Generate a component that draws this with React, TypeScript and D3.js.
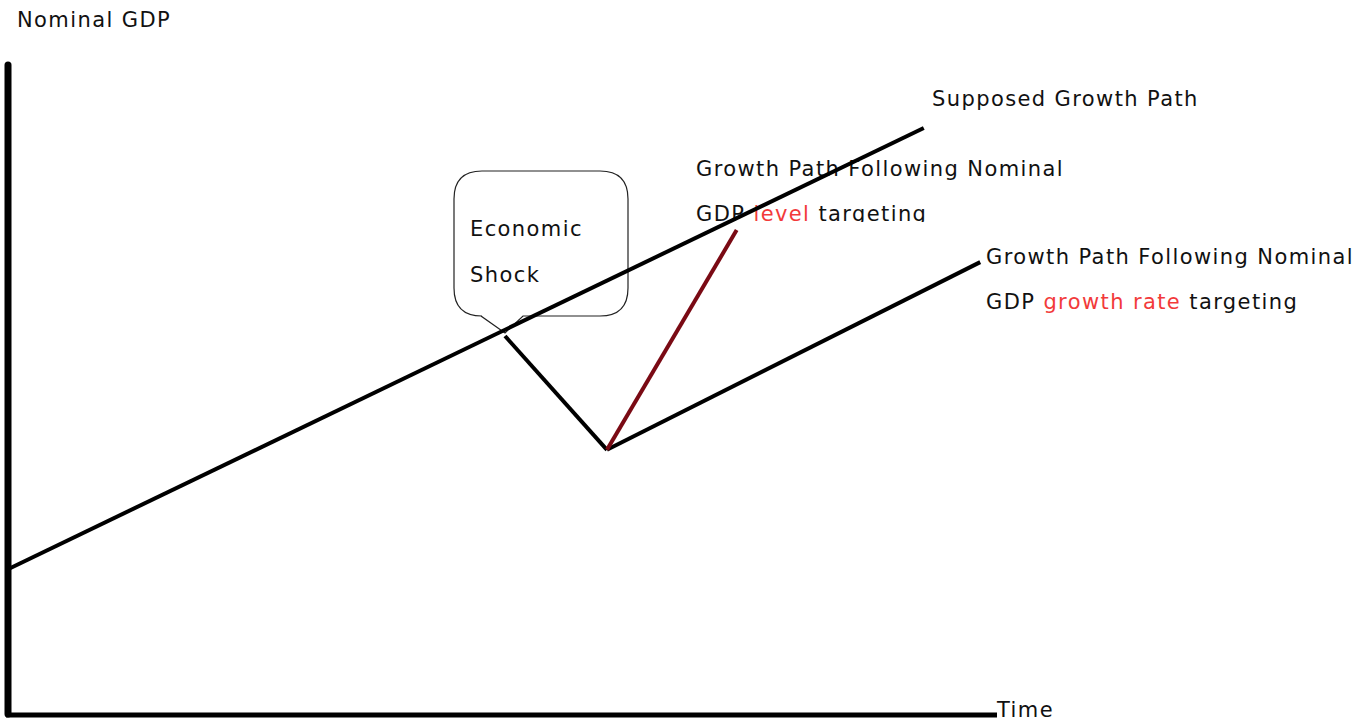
import React from "react";
import * as d3 from "d3";

const W = 1360;
const H = 721;

// conceptual data (time, nominal GDP)
const supposedPath: [number, number][] = [[0, 22.6], [92.3, 89.9]];
const shockPath: [number, number][] = [[50, 58.1], [60.3, 40.7]];
const levelPath: [number, number][] = [[60.3, 40.7], [73.4, 74.3]];
const growthRatePath: [number, number][] = [[60.3, 40.7], [98, 69.4]];

const axisLabels = { y: "Nominal GDP", x: "Time" };
const supposedLabel = "Supposed Growth Path";
const levelLabel = ["Growth Path Following Nominal", "GDP ", "level", " targeting"];
const rateLabel = ["Growth Path Following Nominal", "GDP ", "growth rate", " targeting"];
const shockLabel = ["Economic", "Shock"];

const FONT = "'DejaVu Sans', sans-serif";
const RED = "#f23a3a";
const TXT = "#111";

export default function App() {
  const x = d3.scaleLinear().domain([0, 100]).range([10, 1000]);
  const y = d3.scaleLinear().domain([0, 100]).range([716, 62]);
  const line = d3.line<[number, number]>().x(d => x(d[0])).y(d => y(d[1]));

  // bubble geometry
  const bx0 = 454, by0 = 171, bx1 = 628, by1 = 316, r = 28;
  const tip: [number, number] = [x(shockPath[0][0]), y(shockPath[0][1]) - 3];
  const bubble = `M${bx0 + r},${by0} L${bx1 - r},${by0} Q${bx1},${by0} ${bx1},${by0 + r} L${bx1},${by1 - r} Q${bx1},${by1} ${bx1 - r},${by1} L523,${by1} L${tip[0]},${tip[1]} L481,${by1} L${bx0 + r},${by1} Q${bx0},${by1} ${bx0},${by1 - r} L${bx0},${by0 + r} Q${bx0},${by0} ${bx0 + r},${by0} Z`;

  const ts = { fontFamily: FONT, fontSize: 21, fill: TXT, letterSpacing: 1.4 } as React.CSSProperties;

  return (
    <svg width={W} height={H} style={{ position: "absolute", left: 0, top: 0, background: "#fff" }}>
      <rect width={W} height={H} fill="#fff" />
      <defs>
        <clipPath id="clipLevel">
          <rect x={680} y={190} width={400} height={32} />
        </clipPath>
      </defs>
      {/* axes */}
      <line x1={8} y1={65} x2={8} y2={714} stroke="#000" strokeWidth={7} strokeLinecap="round" />
      <line x1={6} y1={715} x2={997} y2={715} stroke="#000" strokeWidth={5} />

      {/* bubble */}
      <path d={bubble} fill="#fff" stroke="#222" strokeWidth={1.2} />
      <text x={470} y={236} style={ts}>{shockLabel[0]}</text>
      <text x={470} y={282} style={ts}>{shockLabel[1]}</text>

      {/* level label (behind lines) */}
      <text x={696} y={176} style={ts}>{levelLabel[0]}</text>
      <text x={696} y={221} style={ts} clipPath="url(#clipLevel)">
        <tspan>{levelLabel[1]}</tspan>
        <tspan fill={RED}>{levelLabel[2]}</tspan>
        <tspan>{levelLabel[3]}</tspan>
      </text>

      {/* paths */}
      <path d={line(supposedPath) || ""} stroke="#000" strokeWidth={4} fill="none" />
      <path d={line(shockPath) || ""} stroke="#000" strokeWidth={4} fill="none" />
      <path d={line(growthRatePath) || ""} stroke="#000" strokeWidth={4} fill="none" />
      <path d={line(levelPath) || ""} stroke="#7a0a14" strokeWidth={4} fill="none" />

      {/* labels */}
      <text x={17} y={27} style={ts}>{axisLabels.y}</text>
      <text x={997} y={717} style={ts}>{axisLabels.x}</text>
      <text x={932} y={106} style={ts}>{supposedLabel}</text>
      <text x={986} y={264} style={ts}>{rateLabel[0]}</text>
      <text x={986} y={309} style={ts}>
        <tspan>{rateLabel[1]}</tspan>
        <tspan fill={RED}>{rateLabel[2]}</tspan>
        <tspan>{rateLabel[3]}</tspan>
      </text>
    </svg>
  );
}
